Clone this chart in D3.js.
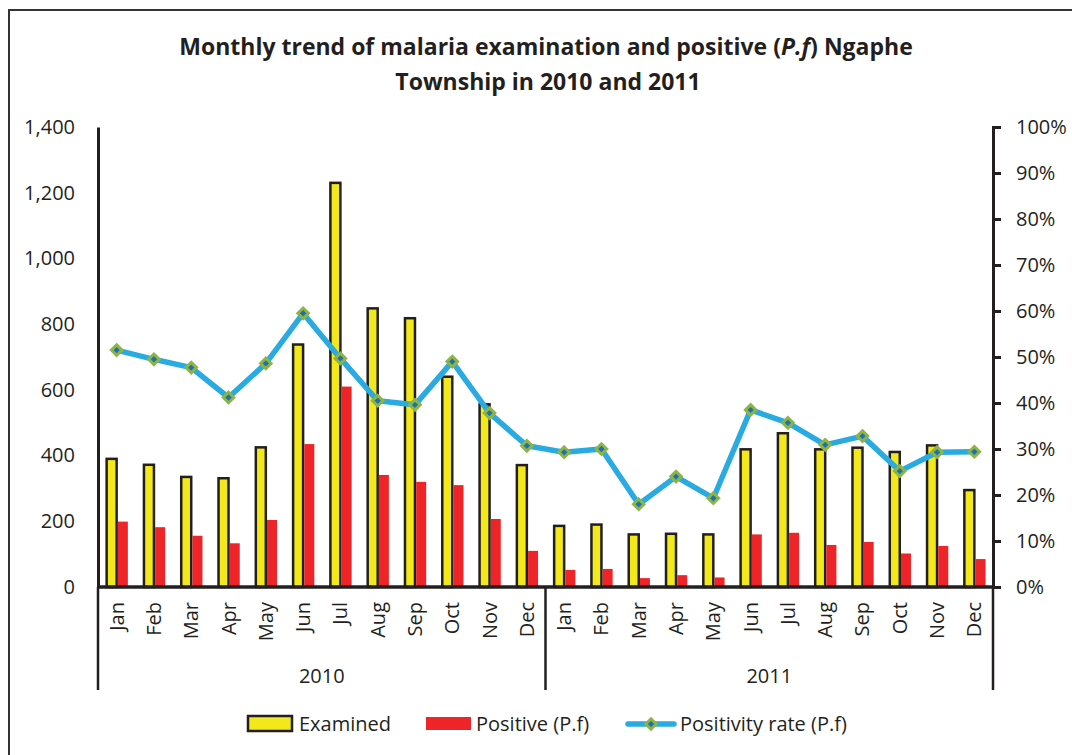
<!DOCTYPE html>
<html>
<head>
<meta charset="utf-8">
<script src="https://cdn.jsdelivr.net/npm/d3@7"></script>
<style>
  body { margin: 0; background: #fff; }
  text { font-family: "Open Sans", Lato, sans-serif; fill: #231f20; }
</style>
</head>
<body>
<script>
const w = 1072; // width
const h = 755; // height

// data
const years = ["2010", "2011"];
const months = ["Jan", "Feb", "Mar", "Apr", "May", "Jun", "Jul", "Aug", "Sep", "Oct", "Nov", "Dec"];
const examined = [390, 372, 335, 331, 425, 738, 1230, 848, 818, 640, 556, 371,
                  186, 190, 160, 162, 160, 419, 468, 419, 424, 411, 431, 295];
const positive = [199, 182, 156, 133, 204, 435, 610, 341, 320, 310, 207, 110,
                  52, 55, 27, 36, 29, 160, 165, 128, 137, 102, 125, 85];
const rate = [0.515, 0.495, 0.477, 0.412, 0.486, 0.595, 0.497, 0.405, 0.396, 0.490, 0.378, 0.307,
              0.293, 0.300, 0.180, 0.240, 0.193, 0.385, 0.357, 0.309, 0.328, 0.252, 0.293, 0.294];
const leftTicks = [0, 200, 400, 600, 800, 1000, 1200, 1400];
const rightTicks = [0, 0.1, 0.2, 0.3, 0.4, 0.5, 0.6, 0.7, 0.8, 0.9, 1];

const cats = [];
years.forEach(yr => months.forEach(m => cats.push(yr + "-" + m)));
const rows = cats.map((c, i) => ({
    key: c,
    year: c.split("-")[0],
    month: c.split("-")[1],
    examined: examined[i],
    positive: positive[i],
    rate: rate[i]
}));

const pLeft = 98, pRight = 993, pTop = 127, pBottom = 587;
const fs = "20px"; // tick label size

let svg = d3.select("body")
    .append("svg")
    .attr("width", w)
    .attr("height", h);

// outer frame
svg.append("rect")
    .attr("x", 9).attr("y", 10)
    .attr("width", 1100).attr("height", 800)
    .attr("fill", "none")
    .attr("stroke", "#333")
    .attr("stroke-width", 2);

// title
let title = svg.append("text")
    .attr("text-anchor", "middle")
    .style("font-weight", "bold")
    .style("font-size", "23px");
let l1 = title.append("tspan").attr("x", 546).attr("y", 55);
l1.append("tspan").text("Monthly trend of malaria examination and positive (");
l1.append("tspan").style("font-style", "italic").text("P.f");
l1.append("tspan").text(") Ngaphe");
title.append("tspan").attr("x", 548).attr("y", 90).text("Township in 2010 and 2011");

// scales
let x = d3.scaleBand()
    .domain(cats)
    .range([pLeft, pRight])
    .padding(0);

let yL = d3.scaleLinear()
    .domain([0, 1400])
    .range([pBottom, pTop]);

let yR = d3.scaleLinear()
    .domain([0, 1])
    .range([pBottom, pTop]);

// bars
const bw = 10;
svg.append("g").selectAll("rect")
    .data(rows)
    .enter()
    .append("rect")
    .attr("x", d => x(d.key) + x.bandwidth() / 2 - bw)
    .attr("y", d => yL(d.examined))
    .attr("width", bw)
    .attr("height", d => yL(0) - yL(d.examined))
    .attr("fill", "#f2e81a")
    .attr("stroke", "#231f20")
    .attr("stroke-width", 2.5);

svg.append("g").selectAll("rect")
    .data(rows)
    .enter()
    .append("rect")
    .attr("x", d => x(d.key) + x.bandwidth() / 2 + 1.2)
    .attr("y", d => yL(d.positive))
    .attr("width", bw)
    .attr("height", d => yL(0) - yL(d.positive))
    .attr("fill", "#ee2428");

// left axis
let axisL = d3.axisLeft(yL)
    .tickValues(leftTicks)
    .tickSize(0)
    .tickPadding(23)
    .tickFormat(d3.format(","));
let gL = svg.append("g")
    .attr("transform", `translate(${pLeft},0)`)
    .call(axisL);
gL.select(".domain").attr("stroke", "#231f20").attr("stroke-width", 3);
gL.selectAll("text").style("font-size", fs).attr("fill", "#231f20");

// right axis
let axisR = d3.axisRight(yR)
    .tickValues(rightTicks)
    .tickSize(8)
    .tickPadding(15)
    .tickFormat(d3.format(".0%"));
let gR = svg.append("g")
    .attr("transform", `translate(${pRight},0)`)
    .call(axisR);
gR.select(".domain").attr("stroke", "#231f20").attr("stroke-width", 3);
gR.selectAll(".tick line").attr("stroke", "#231f20").attr("stroke-width", 3);
gR.selectAll("text").style("font-size", fs).attr("fill", "#231f20");

// x axis line
svg.append("line")
    .attr("x1", pLeft).attr("x2", pRight)
    .attr("y1", pBottom).attr("y2", pBottom)
    .attr("stroke", "#231f20")
    .attr("stroke-width", 3.5);

// month labels
svg.append("g").selectAll("text")
    .data(rows)
    .enter()
    .append("text")
    .attr("transform", d => `translate(${x(d.key) + x.bandwidth() / 2},602) rotate(-90)`)
    .attr("text-anchor", "end")
    .attr("dy", "0.35em")
    .style("font-size", fs)
    .text(d => d.month);

// year group separators
const seps = [cats[0], cats[12], null];
svg.append("g").selectAll("line")
    .data(seps)
    .enter()
    .append("line")
    .attr("x1", d => d ? x(d) : pRight)
    .attr("x2", d => d ? x(d) : pRight)
    .attr("y1", pBottom)
    .attr("y2", 690)
    .attr("stroke", "#231f20")
    .attr("stroke-width", 2.5);

// year labels
svg.append("g").selectAll("text")
    .data(years)
    .enter()
    .append("text")
    .attr("x", yr => {
        let a = x(yr + "-Jan"), b = x(yr + "-Dec") + x.bandwidth();
        return (a + b) / 2;
    })
    .attr("y", 683)
    .attr("text-anchor", "middle")
    .style("font-size", fs)
    .text(d => d);

// positivity rate line
let line = d3.line()
    .x(d => x(d.key) + x.bandwidth() / 2)
    .y(d => yR(d.rate));

svg.append("path")
    .datum(rows)
    .attr("d", line)
    .attr("fill", "none")
    .attr("stroke", "#29abe2")
    .attr("stroke-width", 5.5)
    .attr("stroke-linejoin", "round");

let diamond = d3.symbol().type(d3.symbolDiamond2).size(70);
svg.append("g").selectAll("path")
    .data(rows)
    .enter()
    .append("path")
    .attr("d", diamond)
    .attr("transform", d => `translate(${x(d.key) + x.bandwidth() / 2},${yR(d.rate)})`)
    .attr("fill", "#1f6fb5")
    .attr("stroke", "#8db543")
    .attr("stroke-width", 3);

// legend
let lg = svg.append("g");
lg.append("rect")
    .attr("x", 248).attr("y", 716)
    .attr("width", 44).attr("height", 15)
    .attr("fill", "#f2e81a")
    .attr("stroke", "#231f20")
    .attr("stroke-width", 2.5);
lg.append("text").attr("x", 299).attr("y", 731).style("font-size", "20px").text("Examined");

lg.append("rect")
    .attr("x", 426).attr("y", 717)
    .attr("width", 45).attr("height", 13)
    .attr("fill", "#ee2428");
lg.append("text").attr("x", 476).attr("y", 731).style("font-size", "20px").text("Positive (P.f)");

lg.append("line")
    .attr("x1", 628).attr("x2", 674)
    .attr("y1", 724).attr("y2", 724)
    .attr("stroke", "#29abe2")
    .attr("stroke-width", 5.5)
    .attr("stroke-linecap", "round");
lg.append("path")
    .attr("d", diamond)
    .attr("transform", "translate(651,724)")
    .attr("fill", "#1f6fb5")
    .attr("stroke", "#8db543")
    .attr("stroke-width", 3);
lg.append("text").attr("x", 680).attr("y", 731).style("font-size", "20px").text("Positivity rate (P.f)");
</script>
</body>
</html>
